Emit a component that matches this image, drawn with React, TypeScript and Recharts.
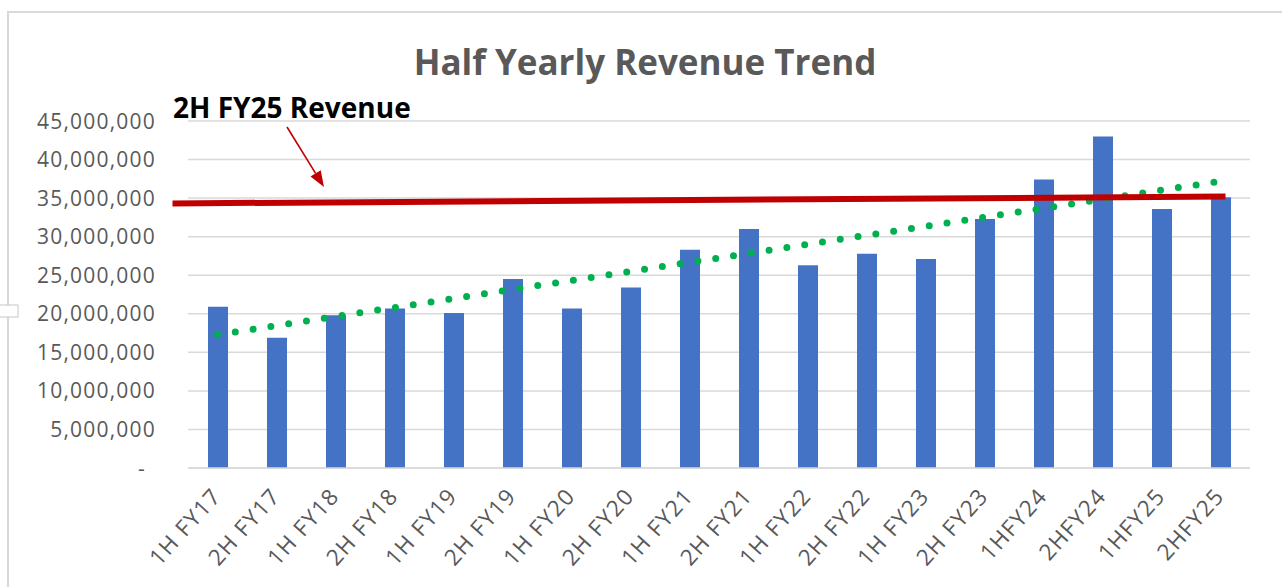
import React from 'react';
import { ComposedChart, Bar, XAxis, YAxis, CartesianGrid, ReferenceLine } from 'recharts';

const categories = [
  '1H FY17', '2H FY17', '1H FY18', '2H FY18', '1H FY19', '2H FY19',
  '1H FY20', '2H FY20', '1H FY21', '2H FY21', '1H FY22', '2H FY22',
  '1H FY23', '2H FY23', '1HFY24', '2HFY24', '1HFY25', '2HFY25',
];
const revenue = [
  20900000, 16900000, 19800000, 20700000, 20100000, 24500000,
  20700000, 23400000, 28300000, 31000000, 26300000, 27800000,
  27100000, 32300000, 37400000, 43000000, 33600000, 35100000,
];
const yTicks = [0, 5000000, 10000000, 15000000, 20000000, 25000000, 30000000, 35000000, 40000000, 45000000];
const trendStart = 17300000;
const trendEnd = 37200000;
const markerStart = 34350000;
const markerEnd = 35200000;

const data = categories.map((c, i) => ({ period: c, revenue: revenue[i] }));

const FONT = '"Open Sans", sans-serif';
const GRAY = '#595959';

const YTick = (props: any) => {
  const { x, y, payload } = props;
  const zero = payload.value === 0;
  return (
    <text x={zero ? x - 10 : x} y={y} dy="0.36em" textAnchor="end" fill={GRAY}
      fontFamily={FONT} fontSize={21} letterSpacing={1.2}>
      {zero ? '-' : Number(payload.value).toLocaleString('en-US')}
    </text>
  );
};

const XTick = (props: any) => {
  const { x, y, payload } = props;
  return (
    <text transform={`translate(${x + 5},${y + 21}) rotate(-48)`} textAnchor="end" fill={GRAY}
      fontFamily={FONT} fontSize={22.5} letterSpacing={1.3}>
      {payload.value}
    </text>
  );
};

const trendShape = (p: any) => (
  <line x1={p.x1} y1={p.y1} x2={p.x2} y2={p.y2} stroke="#00B050" strokeWidth={7}
    strokeDasharray="0 18" strokeLinecap="round" />
);

const redShape = (p: any) => {
  const slope = (p.y2 - p.y1) / (p.x2 - p.x1);
  const l = 45, r = 5;
  return (
    <line x1={p.x1 - l} y1={p.y1 - slope * l} x2={p.x2 + r} y2={p.y2 + slope * r}
      stroke="#C00000" strokeWidth={6} />
  );
};

export default function App() {
  return (
    <div style={{ position: 'absolute', left: 0, top: 0, width: 1282, height: 587, background: '#fff', overflow: 'hidden' }}>
      <ComposedChart width={1282} height={587} data={data}
        margin={{ top: 121, right: 32, bottom: 59, left: 88 }}>
        <CartesianGrid vertical={false} stroke="#d9d9d9" strokeWidth={1.5} />
        <XAxis dataKey="period" interval={0} height={60} tickLine={false}
          axisLine={{ stroke: '#d9d9d9', strokeWidth: 1.5 }} tick={<XTick />} />
        <YAxis width={100} domain={[0, 45000000]} ticks={yTicks} axisLine={false} tickLine={false}
          tickMargin={26} tick={<YTick />} />
        <Bar dataKey="revenue" fill="#4472C4" barSize={20} isAnimationActive={false} />
        <ReferenceLine segment={[{ x: categories[0], y: trendStart }, { x: categories[categories.length - 1], y: trendEnd }]}
          shape={trendShape} />
        <ReferenceLine segment={[{ x: categories[0], y: markerStart }, { x: categories[categories.length - 1], y: markerEnd }]}
          shape={redShape} />
      </ComposedChart>
      <svg width={1282} height={587} style={{ position: 'absolute', left: 0, top: 0, pointerEvents: 'none' }}>
        <rect x={8} y={12} width={1300} height={600} fill="none" stroke="#d9d9d9" strokeWidth={2} />
        <rect x={-2} y={305} width={20} height={12} fill="#fff" stroke="#c6c6c6" strokeWidth={1} />
        <text x={645} y={75} textAnchor="middle" fill={GRAY} fontFamily={FONT} fontWeight={700} fontSize={35}>
          Half Yearly Revenue Trend
        </text>
        <text x={173} y={118} fill="#000" fontFamily={FONT} fontWeight={700} fontSize={28}>
          2H FY25 Revenue
        </text>
        <line x1={287} y1={127} x2={315.6} y2={173.4} stroke="#C00000" strokeWidth={1.6} />
        <polygon points="324,187 310.5,176.6 320.7,170.2" fill="#C00000" />
      </svg>
    </div>
  );
}
